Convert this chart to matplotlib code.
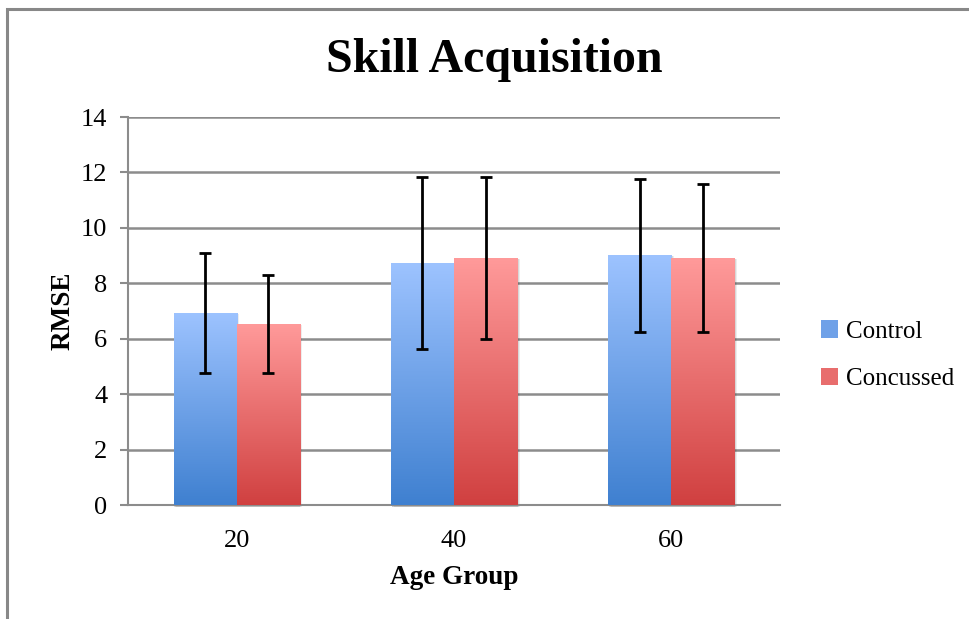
import numpy as np
import matplotlib
matplotlib.use("Agg")
import matplotlib.pyplot as plt
from matplotlib.patches import Rectangle, Patch
from matplotlib.colors import LinearSegmentedColormap

# data
age_groups = ["20", "40", "60"]
control = [6.93, 8.73, 9.01]
control_err = [2.15, 3.10, 2.75]
concussed = [6.53, 8.91, 8.91]
concussed_err = [1.76, 2.93, 2.68]

plt.rcParams['font.family'] = ['Liberation Serif', 'DejaVu Serif']

blue_top, blue_bot = "#9dc3ff", "#3f80d0"
red_top, red_bot = "#ff9a9a", "#d04040"
grid_col = "#8c8c8c"

fig = plt.figure(figsize=(9.7, 6.19), dpi=100)
ax = fig.add_axes([128/970, 1-505/619, (780-128)/970, (505-117)/619])

x = np.arange(len(age_groups))
w = 0.29


def grad_bars(xs, vals, top, bot, label):
    cmap = LinearSegmentedColormap.from_list(label, [bot, top])
    grad = np.linspace(1, 0, 256).reshape(-1, 1)
    bars = ax.bar(xs, vals, w, color="none", edgecolor="none", zorder=3, label=label)
    for b in bars:
        x0, h = b.get_x(), b.get_height()
        # soft shadow to the right / below
        for k, a in [(0.012, 0.07), (0.007, 0.09), (0.003, 0.12)]:
            ax.add_patch(Rectangle((x0 + k, -0.06), w, h + 0.02, color="black",
                                   alpha=a, lw=0, zorder=2.5, clip_on=False))
        im = ax.imshow(grad, cmap=cmap, aspect="auto", extent=(x0, x0 + w, 0, h),
                       zorder=3, interpolation="bicubic")
        im.set_clip_path(b)
    return bars


grad_bars(x - w/2, control, blue_top, blue_bot, "Control")
grad_bars(x + w/2, concussed, red_top, red_bot, "Concussed")

ax.errorbar(x - w/2, control, yerr=control_err, fmt="none", ecolor="black",
            elinewidth=2, capsize=4.6, capthick=2, zorder=5)
ax.errorbar(x + w/2, concussed, yerr=concussed_err, fmt="none", ecolor="black",
            elinewidth=2, capsize=4.6, capthick=2, zorder=5)

ax.set_xlim(-0.5, 2.5)
ax.set_ylim(0, 14)
ax.set_yticks(range(0, 15, 2))
ax.set_xticks(x)
ax.set_xticklabels(age_groups)
ax.yaxis.grid(True, color=grid_col, lw=1.8)
ax.set_axisbelow(True)
for s in ["top", "right"]:
    ax.spines[s].set_visible(False)
for s in ["left", "bottom"]:
    ax.spines[s].set_color(grid_col)
    ax.spines[s].set_linewidth(1.5)
ax.tick_params(axis="y", length=6, width=1.5, color=grid_col, labelsize=19, pad=9)
ax.tick_params(axis="x", length=0, labelsize=19, pad=18)

ax.set_ylabel("RMSE", fontsize=19.5, fontweight="bold", labelpad=4)
ax.set_xlabel("Age Group", fontsize=19.5, fontweight="bold", labelpad=9)

fig.text(494/970, 1-60/619, "Skill Acquisition", fontsize=34.5, fontweight="bold",
         ha="center", va="center")

handles = [Patch(facecolor="#6fa1e8", label="Control"),
           Patch(facecolor="#e86d6d", label="Concussed")]
fig.legend(handles=handles, loc="center left", bbox_to_anchor=(821/970, 1-355/619),
           frameon=False, fontsize=18, handlelength=0.7, handleheight=0.7,
           handletextpad=0.3, labelspacing=1.0, borderpad=0, borderaxespad=0)

# outer chart border (top and left visible)
fig.add_artist(Rectangle((7/970, -0.1), 1.2, 1.1 - 9/619, transform=fig.transFigure,
                         fill=False, edgecolor="#888888", lw=2.2))

fig.savefig("out.png", dpi=100)
